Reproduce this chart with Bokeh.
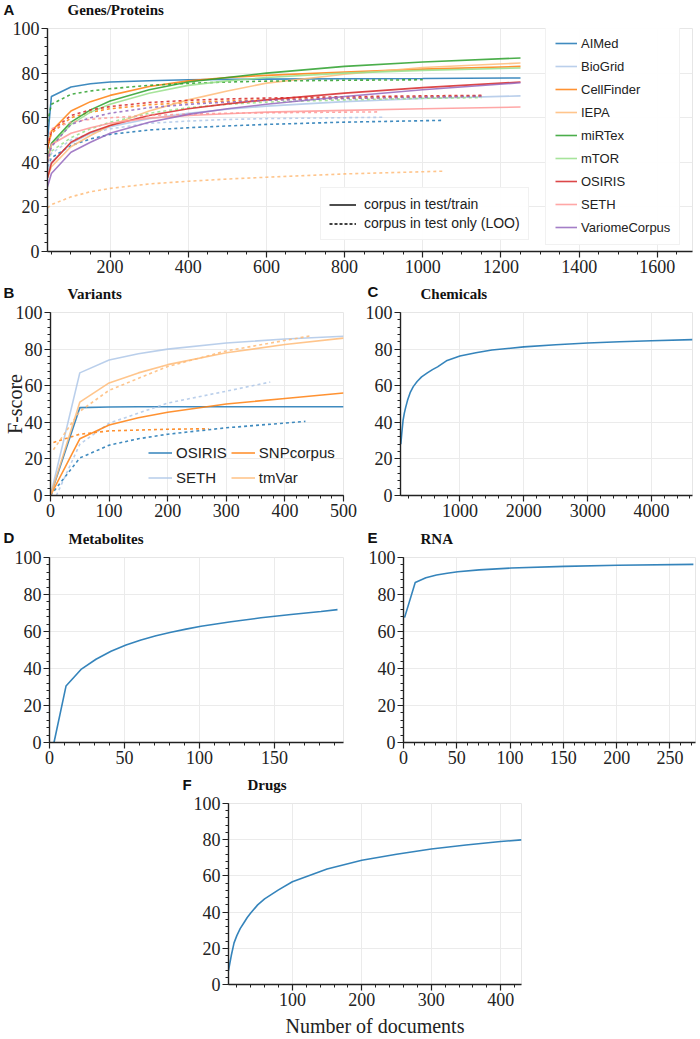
from bokeh.plotting import figure
from bokeh.layouts import column, row
from bokeh.models import Legend, LegendItem, SingleIntervalTicker, Range1d
from bokeh.core.properties import value
from bokeh.embed import file_html
from bokeh.resources import INLINE
import numpy as np

# ---------------- data ----------------
PANEL_LETTERS = ["A", "B", "C", "D", "E", "F"]
PANEL_TITLES = ["Genes/Proteins", "Variants", "Chemicals", "Metabolites", "RNA", "Drugs"]
Y_LABEL = "F-score"
X_LABEL = "Number of documents"

# Panel A: Genes/Proteins (solid = corpus in test/train)
A_X = [40, 50, 100, 150, 200, 300, 400, 500, 600, 800, 1000, 1250]
A_AIMED = [50, 69.5, 73.8, 75.2, 76, 76.6, 77, 77.2, 77.3, 77.5, 77.6, 77.8]
A_BIOGRID = [36, 40, 48.5, 53, 56, 59.5, 62, 63.8, 65.2, 67.2, 68.6, 69.8]
A_CELLFINDER = [46, 54, 63, 67.2, 70, 74, 76.5, 78, 79, 80.5, 81.8, 83]
A_IEPA = [33, 38, 47, 52, 56.5, 63, 68, 72, 75.5, 79.5, 82.5, 84.5]
A_MIRTEX = [42, 48.5, 58, 63.5, 67.5, 72.5, 76, 78, 80, 83, 85, 86.8]
A_MTOR = [42, 47.5, 57, 62.5, 66, 71, 74.5, 76.5, 78, 80, 81.2, 82.3]
A_OSIRIS = [33, 39.5, 49, 53.5, 56.5, 61, 64, 66.2, 68, 71, 73.5, 76]
A_SETH = [40, 48, 53, 55.5, 57.5, 59.8, 61, 61.8, 62.5, 63.3, 64, 64.8]
A_VARIOME = [29, 35, 44.5, 49, 53, 58, 61.5, 64, 66, 69.5, 72.5, 75.7]

# Panel A: dashed = corpus in test only (LOO)
A_AIMED_LOO_X = [40, 50, 100, 150, 200, 300, 400, 500, 600, 800, 1050]
A_AIMED_LOO = [38, 42, 47.5, 50.5, 52.5, 54.5, 55.5, 56.3, 57, 58, 58.8]
A_BIOGRID_LOO_X = [40, 50, 100, 150, 200, 300, 400, 500, 600, 800, 900]
A_BIOGRID_LOO = [38, 44, 50, 53, 55, 57.5, 58.5, 59.2, 59.6, 60, 60.2]
A_CELLFINDER_LOO_X = [40, 50, 100, 150, 200, 300, 400, 500, 600, 800, 1000, 1150]
A_CELLFINDER_LOO = [46, 53, 60, 62.5, 64, 65.8, 66.8, 67.5, 68, 68.8, 69.3, 69.7]
A_IEPA_LOO_X = [40, 50, 100, 150, 200, 300, 400, 500, 600, 800, 1050]
A_IEPA_LOO = [19.5, 21, 24.5, 26.8, 28.3, 30.3, 31.5, 32.5, 33.3, 34.8, 36]
A_MIRTEX_LOO_X = [40, 50, 100, 150, 200, 300, 400, 500, 600, 800, 1000]
A_MIRTEX_LOO = [58, 66, 70.5, 72, 73, 74.5, 75.4, 76, 76.4, 76.8, 77]
A_MTOR_LOO_X = [40, 50, 100, 150, 200, 300, 400, 500, 600, 800, 1000, 1150]
A_MTOR_LOO = [40, 45, 51, 55, 58, 62, 64.5, 66, 67, 68, 68.7, 69]
A_OSIRIS_LOO_X = [40, 50, 100, 150, 200, 300, 400, 500, 600, 800, 1000, 1150]
A_OSIRIS_LOO = [47, 54, 61, 63.5, 65, 66.8, 67.8, 68.4, 68.8, 69.4, 69.8, 70]
A_SETH_LOO_X = [40, 50, 100, 150, 200, 300, 400, 500, 600, 800, 890]
A_SETH_LOO = [50, 55, 58, 59.3, 60, 61, 61.6, 62, 62.2, 62.5, 62.6]
A_VARIOME_LOO_X = [40, 50, 100, 150, 200, 300, 400, 500, 600, 800, 1000, 1150]
A_VARIOME_LOO = [40, 47, 57, 60, 62, 64.5, 66, 67, 67.8, 68.6, 69.2, 69.6]

A_NAMES = ["AIMed", "BioGrid", "CellFinder", "IEPA", "miRTex", "mTOR", "OSIRIS", "SETH", "VariomeCorpus"]
A_COLORS = ["#1f77b4", "#aec7e8", "#ff7f0e", "#ffbb78", "#2ca02c", "#98df8a", "#d62728", "#ff9896", "#9467bd"]
STYLE_LABELS = ["corpus in test/train", "corpus in test only (LOO)"]

# Panel B: Variants
B_NAMES = ["OSIRIS", "SETH", "SNPcorpus", "tmVar"]
B_COLORS = ["#1f77b4", "#aec7e8", "#ff7f0e", "#ffbb78"]
B_X = [0, 50, 100, 150, 200, 300, 400, 500]
B_OSIRIS = [0, 48, 48.4, 48.5, 48.5, 48.5, 48.5, 48.5]
B_SETH = [0, 67, 74, 77.5, 80, 83.3, 85.5, 87]
B_SNPCORPUS = [0, 31, 38.5, 42.5, 45.5, 50, 53, 56]
B_TMVAR = [0, 51, 61.5, 67, 71.5, 78, 82.5, 86]
B_OSIRIS_LOO_X = [0, 50, 100, 150, 200, 300, 435]
B_OSIRIS_LOO = [0, 20.5, 27.5, 31, 33.5, 37, 40.5]
B_SETH_LOO_X = [10, 50, 100, 200, 300, 375]
B_SETH_LOO = [0, 28, 39.5, 50.5, 57, 62]
B_SNPCORPUS_LOO_X = [5, 50, 100, 200, 270]
B_SNPCORPUS_LOO = [29, 33.5, 35.3, 36.2, 36.5]
B_TMVAR_LOO_X = [5, 50, 100, 200, 300, 445]
B_TMVAR_LOO = [25, 46, 57.5, 70.5, 79, 87.3]

# Panel C: Chemicals
C_X = [75, 90, 110, 130, 150, 180, 225, 270, 330, 400, 490, 570, 650, 800, 1000, 1250,
       1500, 2000, 2500, 3000, 3500, 4000, 4640]
C_F = [28, 34, 41, 45, 48, 52, 56.5, 59.5, 62.3, 64.8, 67, 68.8, 70.3, 73.8, 76.2, 78,
       79.5, 81.2, 82.4, 83.3, 84, 84.6, 85.2]

# Panel D: Metabolites
D_X = [3, 11, 21, 31, 41, 51, 61, 71, 81, 91, 101, 121, 141, 161, 181, 192]
D_F = [0, 30.5, 39.5, 45, 49.3, 52.7, 55.4, 57.7, 59.6, 61.3, 62.8, 65.3, 67.4, 69.2, 70.8, 71.8]

# Panel E: RNA
E_X = [1, 11, 21, 31, 41, 51, 71, 101, 151, 201, 272]
E_F = [67.5, 86.5, 89, 90.5, 91.5, 92.3, 93.3, 94.3, 95.2, 95.8, 96.3]

# Panel F: Drugs
F_X = [8, 12, 16, 20, 25, 30, 35, 40, 50, 60, 80, 100, 150, 200, 250, 300, 350, 400, 430]
F_F = [7.7, 16, 23, 27, 31, 34, 37, 39.5, 44, 47.3, 52.3, 56.8, 63.8, 68.6, 72, 74.9, 77.1, 79, 79.9]

# ---------------- helpers ----------------
SERIF = "Liberation Serif"
SANS = "Liberation Sans"
INK = "#222222"


def no_align(p):
    try:
        p.frame_align = False
    except Exception:
        pass


def make_fig(w, h, xr, left, right, top, bottom, xint, xminor):
    p = figure(width=w, height=h, x_range=Range1d(*xr), y_range=Range1d(0, 100),
               output_backend="svg", toolbar_location=None,
               min_border_left=left, min_border_right=right,
               min_border_top=top, min_border_bottom=bottom)
    no_align(p)
    p.xaxis.ticker = SingleIntervalTicker(interval=xint, num_minor_ticks=xminor)
    p.yaxis.ticker = SingleIntervalTicker(interval=20, num_minor_ticks=5)
    for ax in (p.xaxis[0], p.yaxis[0]):
        ax.axis_line_color = INK
        ax.axis_line_width = 1.4
        ax.major_tick_line_color = INK
        ax.minor_tick_line_color = INK
        ax.major_tick_line_width = 1.2
        ax.major_tick_out = 6
        ax.major_tick_in = 0
        ax.minor_tick_out = 3
        ax.minor_tick_in = 0
        ax.major_label_text_font = SERIF
        ax.major_label_text_font_size = "18px"
        ax.major_label_text_color = INK
        ax.major_label_standoff = 2
    p.xgrid.grid_line_color = "#ebebeb"
    p.ygrid.grid_line_color = "#ebebeb"
    p.outline_line_color = "#e6e6e6"
    p.background_fill_color = "white"
    p.border_fill_color = "white"
    return p


def header(w, h, letters, titles):
    """A text strip (no axes) holding the panel letters and panel titles.
    letters / titles: lists of (x, y_from_top, text)."""
    p = figure(width=w, height=h, x_range=Range1d(0, w), y_range=Range1d(h, 0),
               output_backend="svg", toolbar_location=None,
               x_axis_type=None, y_axis_type=None, min_border=0)
    no_align(p)
    p.outline_line_color = None
    p.grid.visible = False
    p.text(x=[t[0] for t in letters], y=[t[1] for t in letters], text=[t[2] for t in letters],
           text_font=value(SANS), text_font_size="15px", text_font_style="bold",
           text_color="#111111", text_baseline="middle", text_align="left")
    p.text(x=[t[0] for t in titles], y=[t[1] for t in titles], text=[t[2] for t in titles],
           text_font=value(SERIF), text_font_size="15px", text_font_style="bold",
           text_color="#111111", text_baseline="middle", text_align="left")
    return p


# ---------------- Panel A ----------------
hA = header(700, 18, [(3, 9, PANEL_LETTERS[0])], [(67, 9, PANEL_TITLES[0])])
pA = make_fig(700, 263, (40, 1690), 47, 8, 10, 30, 200, 4)
solid_A = [A_AIMED, A_BIOGRID, A_CELLFINDER, A_IEPA, A_MIRTEX, A_MTOR, A_OSIRIS, A_SETH, A_VARIOME]
loo_A = [(A_AIMED_LOO_X, A_AIMED_LOO), (A_BIOGRID_LOO_X, A_BIOGRID_LOO),
         (A_CELLFINDER_LOO_X, A_CELLFINDER_LOO), (A_IEPA_LOO_X, A_IEPA_LOO),
         (A_MIRTEX_LOO_X, A_MIRTEX_LOO), (A_MTOR_LOO_X, A_MTOR_LOO),
         (A_OSIRIS_LOO_X, A_OSIRIS_LOO), (A_SETH_LOO_X, A_SETH_LOO),
         (A_VARIOME_LOO_X, A_VARIOME_LOO)]
items_A = []
for name, col, ys, (lx, ly) in zip(A_NAMES, A_COLORS, solid_A, loo_A):
    pA.line(lx, ly, line_color=col, line_width=1.6, line_alpha=0.85, line_dash="3 3")
    r = pA.line(A_X, ys, line_color=col, line_width=1.6, line_alpha=0.85)
    items_A.append(LegendItem(label=name, renderers=[r]))

legA = Legend(items=items_A, location=(498, 6), padding=9, spacing=7,
              label_height=16, glyph_height=16, glyph_width=22, label_standoff=4,
              label_text_font=SANS, label_text_font_size="13px", label_text_color=INK,
              border_line_color="#e3e3e3", background_fill_color="white",
              background_fill_alpha=0.95, margin=0)
pA.add_layout(legA, "center")

# legend proxies for the line styles (no visible points on the plot)
blank = np.full(len(A_X), np.nan)
r_solid = pA.line(A_X, blank, line_color="black", line_width=1.4)
r_dash = pA.line(A_X, blank, line_color="black", line_width=1.4, line_dash="3 2")
legA2 = Legend(items=[LegendItem(label=STYLE_LABELS[0], renderers=[r_solid]),
                      LegendItem(label=STYLE_LABELS[1], renderers=[r_dash])],
               location=(273, 11), padding=8, spacing=3,
               label_height=15, glyph_height=15, glyph_width=27, label_standoff=8,
               label_text_font=SANS, label_text_font_size="14px", label_text_color=INK,
               border_line_color="#e3e3e3", background_fill_color="white",
               background_fill_alpha=0.95, margin=0)
pA.add_layout(legA2, "center")

# ---------------- Panels B and C ----------------
hBC = header(700, 21, [(3, 11, PANEL_LETTERS[1]), (367, 9.5, PANEL_LETTERS[2])],
             [(67, 12, PANEL_TITLES[1]), (420, 12, PANEL_TITLES[2])])

pB = make_fig(358, 226, (0, 500), 50, 15, 10, 33, 100, 5)
pB.yaxis.axis_label = Y_LABEL
pB.yaxis.axis_label_text_font = SERIF
pB.yaxis.axis_label_text_font_size = "20px"
pB.yaxis.axis_label_text_font_style = "normal"
pB.yaxis.axis_label_text_color = INK
pB.yaxis.axis_label_standoff = -13
b_solid = [B_OSIRIS, B_SETH, B_SNPCORPUS, B_TMVAR]
b_loo = [(B_OSIRIS_LOO_X, B_OSIRIS_LOO), (B_SETH_LOO_X, B_SETH_LOO),
         (B_SNPCORPUS_LOO_X, B_SNPCORPUS_LOO), (B_TMVAR_LOO_X, B_TMVAR_LOO)]
items_B = []
for name, col, ys, (lx, ly) in zip(B_NAMES, B_COLORS, b_solid, b_loo):
    pB.line(lx, ly, line_color=col, line_width=1.6, line_alpha=0.85, line_dash="3 3")
    r = pB.line(B_X, ys, line_color=col, line_width=1.6, line_alpha=0.85)
    items_B.append(LegendItem(label=name, renderers=[r]))
legB = Legend(items=items_B, location=(96, 5), ncols=2, padding=2, spacing=4,
              label_height=21, glyph_height=21, glyph_width=24, label_standoff=4,
              label_text_font=SANS, label_text_font_size="15px", label_text_color=INK,
              border_line_alpha=0, background_fill_alpha=0, margin=0)
pB.add_layout(legB, "center")

pC = make_fig(342, 226, (70, 4640), 42, 8, 10, 33, 1000, 5)
pC.line(C_X, C_F, line_color="#1f77b4", line_width=1.6, line_alpha=0.9)

# ---------------- Panels D and E ----------------
hDE = header(700, 19, [(3, 9, PANEL_LETTERS[3]), (367, 9, PANEL_LETTERS[4])],
             [(68, 10, PANEL_TITLES[3]), (420, 10, PANEL_TITLES[4])])
pD = make_fig(358, 228, (0, 196), 49, 15, 10, 33, 50, 5)
pD.line(D_X, D_F, line_color="#1f77b4", line_width=1.6, line_alpha=0.9)
pE = make_fig(342, 228, (0, 274), 45, 5, 10, 33, 50, 5)
pE.line(E_X, E_F, line_color="#1f77b4", line_width=1.6, line_alpha=0.9)

# ---------------- Panel F ----------------
hF = header(700, 18, [(182, 9, PANEL_LETTERS[5])], [(247, 9, PANEL_TITLES[5])])
pF = make_fig(700, 246, (8, 430), 228, 179, 10, 53, 100, 5)
pF.line(F_X, F_F, line_color="#1f77b4", line_width=1.6, line_alpha=0.9)
pF.xaxis.axis_label = X_LABEL
pF.xaxis.axis_label_text_font = SERIF
pF.xaxis.axis_label_text_font_size = "20px"
pF.xaxis.axis_label_text_font_style = "normal"
pF.xaxis.axis_label_text_color = INK
pF.xaxis.axis_label_standoff = 6

layout = column(row(hA), row(pA), row(hBC), row(pB, pC), row(hDE), row(pD, pE), row(hF), row(pF))

open("out.html", "w").write(file_html(layout, INLINE))
